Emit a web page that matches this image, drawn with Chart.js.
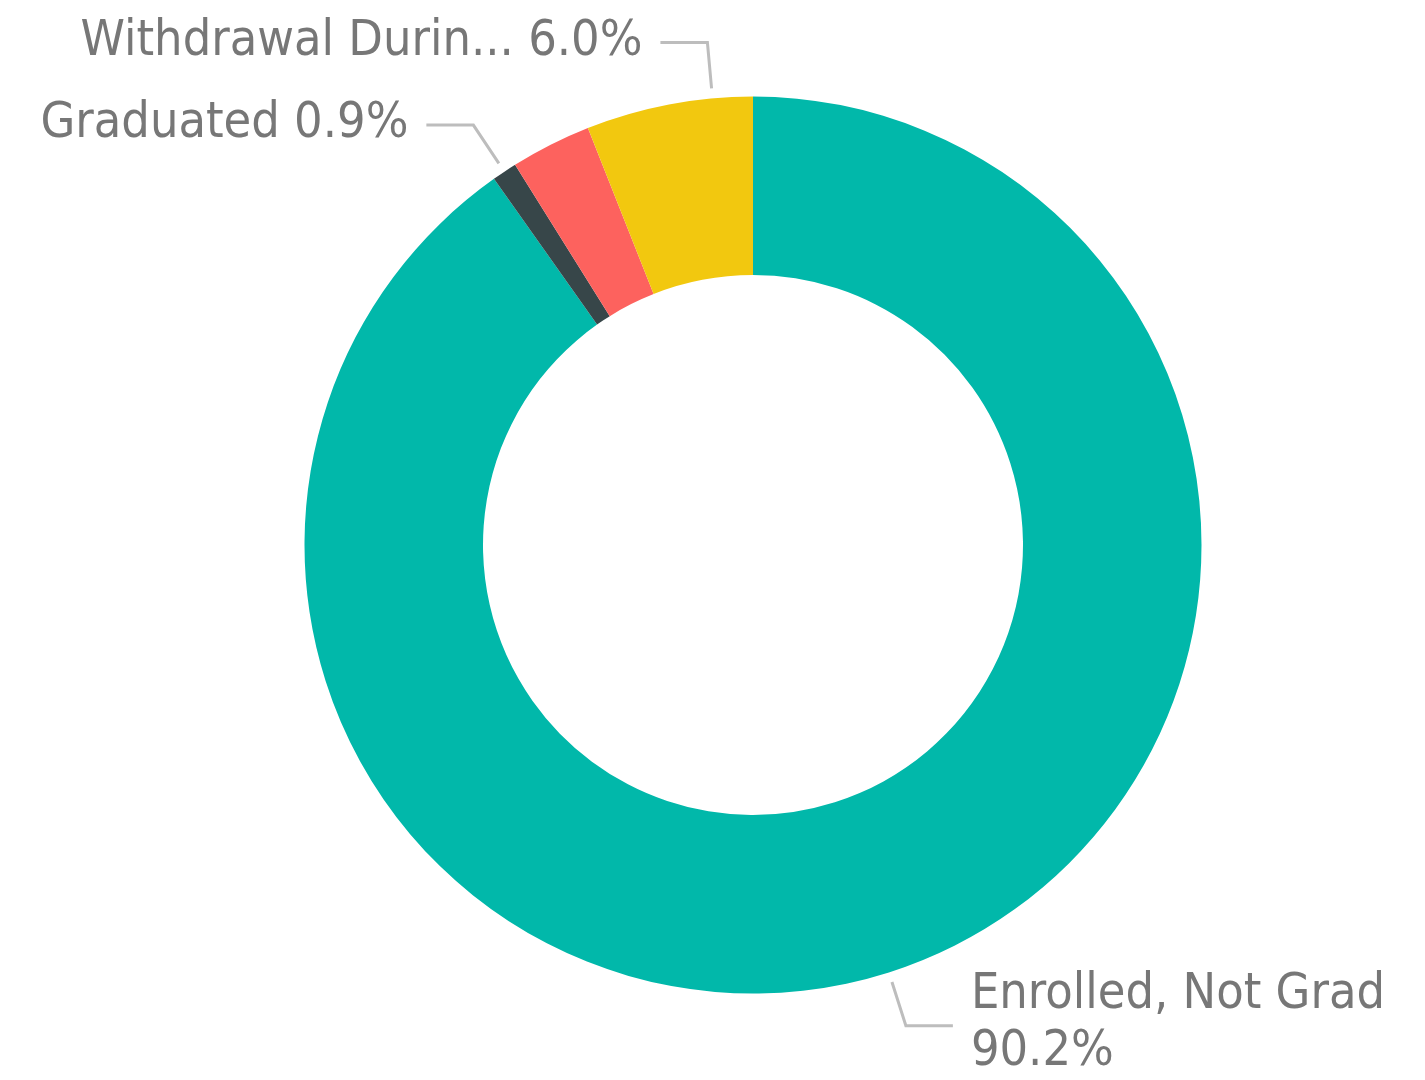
<!DOCTYPE html>
<html>
<head>
<meta charset="utf-8">
<script src="https://cdn.jsdelivr.net/npm/chart.js@4.4.1/dist/chart.umd.min.js"></script>
<style>
  html, body { margin: 0; padding: 0; background: #ffffff; }
  #wrap { width: 1425px; height: 1080px; position: relative; }
</style>
</head>
<body>
<div id="wrap"><canvas id="c" width="1425" height="1080"></canvas></div>
<script>
// ---- Data ----
const categories = ["Enrolled, Not Grad", "Graduated", "Other", "Withdrawal Durin..."];
const shareValues = [90.2, 0.9, 2.9, 6.0];
const sliceColors = ["#01B8AA", "#374649", "#FD625E", "#F2C80F"];
const showLabel = [true, true, false, true];

// Label drawing plugin (leader lines + text)
const labelCfg = {
  anchorFrac: [0.5, 0.5, 0.5, 0.76],
  wrap: [["Enrolled, Not Grad"], null, null, null]
};

const outerLabels = {
  id: 'outerLabels',
  afterDatasetsDraw(chart) {
    const ctx = chart.ctx;
    const meta = chart.getDatasetMeta(0);
    const fontSize = 50;
    ctx.save();
    ctx.font = fontSize + 'px "Liberation Sans Narrow", "DejaVu Sans Condensed", sans-serif';
    meta.data.forEach((arc, i) => {
      if (!showLabel[i]) return;
      const {x, y, startAngle, endAngle, outerRadius} = arc.getProps(['x','y','startAngle','endAngle','outerRadius'], true);
      const a = startAngle + (endAngle - startAngle) * labelCfg.anchorFrac[i];
      const cx = Math.cos(a), cy = Math.sin(a);
      const p0x = x + cx * (outerRadius + 10), p0y = y + cy * (outerRadius + 10);
      const p1x = x + cx * (outerRadius + 56), p1y = y + cy * (outerRadius + 56);
      const side = cx >= 0 ? 1 : -1;
      const p2x = p1x + side * 47, p2y = p1y;
      ctx.strokeStyle = '#BDBDBD';
      ctx.lineWidth = 3;
      ctx.beginPath();
      ctx.moveTo(p0x, p0y);
      ctx.lineTo(p1x, p1y);
      ctx.lineTo(p2x, p2y);
      ctx.stroke();
      const pct = shareValues[i].toFixed(1) + '%';
      ctx.fillStyle = '#777777';
      ctx.textBaseline = 'middle';
      const tx = p2x + side * 18;
      if (side > 0) {
        ctx.textAlign = 'left';
        const lines = [categories[i], pct];
        const lh = 57;
        const y0 = p2y - lh / 2 - 2;
        lines.forEach((t, k) => ctx.fillText(t, tx, y0 + k * lh));
      } else {
        ctx.textAlign = 'right';
        ctx.fillText(categories[i] + ' ' + pct, tx, p2y - 1);
      }
    });
    ctx.restore();
  }
};

new Chart(document.getElementById('c'), {
  type: 'doughnut',
  data: {
    labels: categories,
    datasets: [{
      data: shareValues,
      backgroundColor: sliceColors,
      borderWidth: 0,
      hoverOffset: 0,
      offset: 0
    }]
  },
  options: {
    responsive: false,
    animation: false,
    cutout: '60.2%',
    layout: { padding: { left: 304.5, right: 223.5, top: 96.5, bottom: 86.5 } },
    plugins: {
      legend: { display: false },
      tooltip: { enabled: false }
    }
  },
  plugins: [outerLabels]
});
</script>
</body>
</html>
